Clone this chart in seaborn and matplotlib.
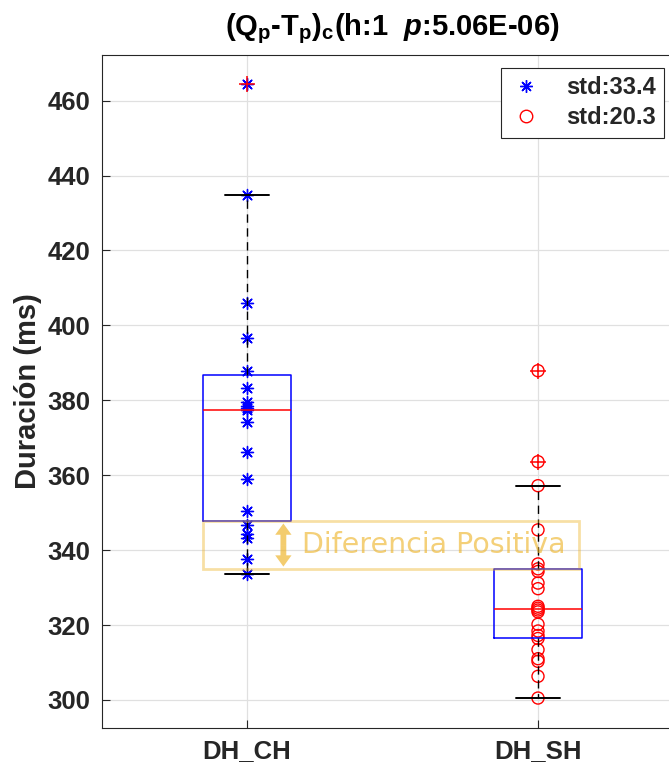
import numpy as np
import pandas as pd
import matplotlib
matplotlib.use("Agg")
import matplotlib.pyplot as plt
import seaborn as sns
from matplotlib.lines import Line2D
from matplotlib.patches import Rectangle, FancyArrow

# Durations (ms) per condition
groups = ["DH_CH", "DH_SH"]
dh_ch = [464.4, 434.7, 405.9, 396.6, 387.8, 383.3, 379.5, 378.6, 377.9, 377.3,
         374.2, 366.2, 359.1, 350.4, 346.8, 344.4, 343.3, 337.5, 333.6]
dh_sh = [387.9, 363.6, 357.2, 345.4, 336.3, 335.0, 334.3, 331.2, 329.7, 325.0,
         324.5, 324.0, 323.5, 320.2, 318.4, 317.2, 316.4, 313.4, 311.0, 310.3,
         306.3, 300.5]
y_ticks = [300, 320, 340, 360, 380, 400, 420, 440, 460]
title_text = r"(Q$_\mathrm{p}$-T$_\mathrm{p}$)$_\mathrm{c}$(h:1  $\mathit{p}$:5.06E-06)"
y_label = "Duración (ms)"
note_text = "Diferencia Positiva"

df = pd.DataFrame({
    "grupo": [groups[0]] * len(dh_ch) + [groups[1]] * len(dh_sh),
    "valor": dh_ch + dh_sh,
})
df["pos"] = df["grupo"].map({g: i + 1 for i, g in enumerate(groups)})

sns.set_style("whitegrid", {
    "axes.edgecolor": "#262626",
    "grid.color": "#e0e0e0",
    "xtick.direction": "in",
    "ytick.direction": "in",
    "xtick.bottom": True,
    "ytick.left": True,
})
plt.rcParams.update({
    "font.family": ["Liberation Sans", "DejaVu Sans"],
    "font.weight": "bold",
    "mathtext.fontset": "custom",
    "mathtext.rm": "Liberation Sans:bold",
    "mathtext.it": "Liberation Sans:italic:bold",
    "mathtext.bf": "Liberation Sans:bold",
    "mathtext.sf": "Liberation Sans:bold",
})

fig = plt.figure(figsize=(6.69, 7.73), dpi=100)
ax = fig.add_axes([101.5 / 669, 45 / 773, 582 / 669, 673 / 773])

# individual observations
sub = df[df["grupo"] == groups[0]]
sns.scatterplot(data=sub, x="pos", y="valor", ax=ax, marker=(8, 2, 0), s=75,
                color="blue", edgecolor="blue", linewidth=1.0, zorder=2, legend=False)
sub = df[df["grupo"] == groups[1]]
sns.scatterplot(data=sub, x="pos", y="valor", ax=ax, marker="o", s=75,
                facecolor="none", edgecolor="red", linewidth=1.0, zorder=2, legend=False)


def box_stats(values):
    v = np.asarray(values, dtype=float)
    q1, med, q3 = np.percentile(v, [25, 50, 75], method="hazen")
    iqr = q3 - q1
    lo_f, hi_f = q1 - 1.5 * iqr, q3 + 1.5 * iqr
    inside = v[(v >= lo_f) & (v <= hi_f)]
    return dict(med=med, q1=q1, q3=q3, whislo=inside.min(), whishi=inside.max(),
                fliers=v[(v < lo_f) | (v > hi_f)])


stats = [box_stats(dh_ch), box_stats(dh_sh)]
ax.bxp(stats, positions=[1, 2], widths=0.3, capwidths=0.15, manage_ticks=False,
       boxprops=dict(color="blue", lw=1.1),
       medianprops=dict(color="red", lw=1.1),
       whiskerprops=dict(color="black", lw=1.0, ls=(0, (6, 4))),
       capprops=dict(color="black", lw=1.4),
       flierprops=dict(marker="+", markeredgecolor="red", markersize=11, mew=1.1),
       zorder=3)

# highlighted gap between the two boxes
ch_q1 = stats[0]["q1"]
sh_q3 = stats[1]["q3"]
gold = "#EDB120"
ax.add_patch(Rectangle((0.85, sh_q3), 1.29, ch_q1 - sh_q3, fill=False,
                       edgecolor=gold, alpha=0.4, lw=2, zorder=4))
# double-headed arrow: two halves pointing outwards from the middle
mid = (ch_q1 + sh_q3) / 2
half = (ch_q1 - sh_q3) / 2 - 0.6
for sign in (1, -1):
    ax.add_patch(FancyArrow(1.125, mid, 0, sign * half, width=0.02,
                            head_width=0.056, head_length=3.0,
                            length_includes_head=True, color=gold, alpha=0.65,
                            lw=0, zorder=4))
ax.text(1.19, mid, note_text, ha="left", va="center",
        fontsize=20.5, family="DejaVu Sans", weight="normal", color=gold,
        alpha=0.6, zorder=4)

ax.set_xlim(0.5, 2.5)
ax.set_ylim(292.5, 472.2)
ax.set_xticks([1, 2])
ax.set_xticklabels(groups)
ax.set_yticks(y_ticks)
ax.tick_params(axis="both", labelsize=18.5, length=6, width=0.8, color="#262626",
               labelcolor="#262626", pad=8)
ax.grid(True, color="#e0e0e0", lw=0.9)
ax.set_axisbelow(True)
ax.set_xlabel("")
ax.set_ylabel(y_label, fontsize=21, weight="bold", color="#262626", labelpad=4)
ax.set_title(title_text, fontsize=21, weight="bold", color="black", pad=14)
for s in ax.spines.values():
    s.set_linewidth(0.8)

handles = [
    Line2D([], [], marker=(8, 2, 0), color="blue", ls="none", ms=9, mew=1.0),
    Line2D([], [], marker="o", mfc="none", mec="red", ls="none", ms=9, mew=1.0),
]
labels = [f"std:{np.std(dh_ch, ddof=1):.1f}", f"std:{np.std(dh_sh, ddof=1):.1f}"]
leg = ax.legend(handles, labels, loc="upper right",
                bbox_to_anchor=(664 / 669, 1 - 68 / 773), bbox_transform=fig.transFigure,
                frameon=True, fancybox=False, edgecolor="#262626", framealpha=1,
                prop=dict(size=17, weight="bold"), handlelength=1.4,
                handletextpad=1.0, borderpad=0.35, labelspacing=0.3, borderaxespad=0)
leg.get_frame().set_linewidth(0.8)

fig.savefig("out.png", dpi=100)
